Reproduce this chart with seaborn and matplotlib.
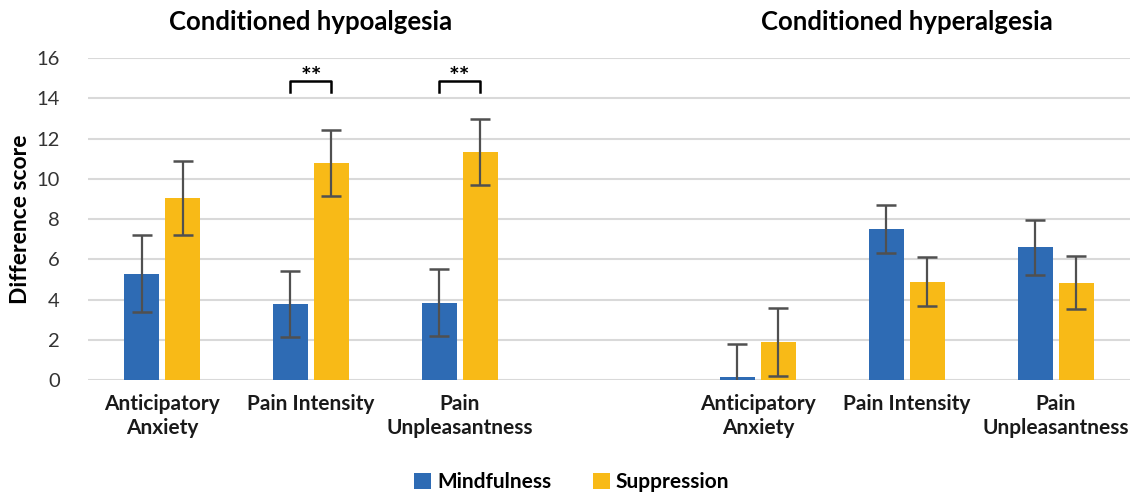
import matplotlib
matplotlib.use("Agg")
import matplotlib.pyplot as plt
import seaborn as sns
import pandas as pd

# categories (one empty slot separates the two panels)
slots = ["hypo_aa", "hypo_pi", "hypo_pu", "gap", "hyper_aa", "hyper_pi", "hyper_pu"]
slot_labels = ["Anticipatory\nAnxiety", "Pain Intensity", "Pain\nUnpleasantness", "",
               "Anticipatory\nAnxiety", "Pain Intensity", "Pain\nUnpleasantness"]
measures = ["hypo_aa", "hypo_pi", "hypo_pu", "hyper_aa", "hyper_pi", "hyper_pu"]

mindfulness = [5.3, 3.8, 3.85, 0.15, 7.5, 6.6]
mindfulness_err = [1.9, 1.65, 1.65, 1.65, 1.2, 1.35]
suppression = [9.05, 10.8, 11.35, 1.9, 4.9, 4.85]
suppression_err = [1.85, 1.65, 1.65, 1.7, 1.2, 1.3]

groups = ["Mindfulness", "Suppression"]
palette = {"Mindfulness": "#2E6BB4", "Suppression": "#F8BA17"}

df = pd.DataFrame({
    "slot": measures * 2,
    "group": ["Mindfulness"] * len(measures) + ["Suppression"] * len(measures),
    "score": mindfulness + suppression,
    "err": mindfulness_err + suppression_err,
})

plt.rcParams["font.family"] = ["Lato", "DejaVu Sans"]

fig, ax = plt.subplots(figsize=(11.37, 4.97), dpi=100)
fig.subplots_adjust(left=0.077, right=0.994, top=0.883, bottom=0.235)

sns.barplot(data=df, x="slot", y="score", hue="group", order=slots,
            hue_order=groups, palette=palette, width=0.55, gap=0.15,
            errorbar=None, saturation=1, ax=ax, zorder=3)

# error bars placed on the drawn bars
for container, grp in zip(ax.containers, groups):
    sub = df[df["group"] == grp].set_index("slot")
    for bar in container:
        xc = bar.get_x() + bar.get_width() / 2
        key = slots[int(round(xc))]
        if key not in sub.index:
            continue
        ax.errorbar(xc, sub.loc[key, "score"], yerr=sub.loc[key, "err"],
                    fmt="none", ecolor="#505050", elinewidth=1.6,
                    capsize=7.5, capthick=1.8, zorder=4)

# significance brackets
for key in ["hypo_pi", "hypo_pu"]:
    i = slots.index(key)
    x0, x1 = i - 0.1375, i + 0.1375
    ax.plot([x0, x0, x1, x1], [14.3, 14.85, 14.85, 14.3], color="black",
            lw=1.8, clip_on=False, zorder=5)
    ax.text(i, 15.05, "**", ha="center", va="center", fontsize=18,
            fontweight="bold", color="black")

ax.set_ylim(0, 16)
ax.set_xlim(-0.5, len(slots) - 0.5)
ax.set_yticks(range(0, 17, 2))
ax.yaxis.grid(True, color="#D9D9D9", lw=1.5, zorder=0)
ax.set_axisbelow(True)
for s in ax.spines.values():
    s.set_visible(False)
ax.axhline(0, color="#D9D9D9", lw=1.8, zorder=1)

ax.set_xticks(range(len(slots)))
ax.set_xticklabels(slot_labels, fontsize=15, fontweight="bold", color="#1a1a1a",
                   linespacing=1.25)
ax.tick_params(axis="x", length=0, pad=10)
ax.tick_params(axis="y", length=0, labelsize=14.5, labelcolor="#333333", pad=20)
ax.set_xlabel("")
ax.set_ylabel("Difference score", fontsize=16.5, fontweight="bold", labelpad=4)

ax.text(1, 1.075, "Conditioned hypoalgesia", transform=ax.get_xaxis_transform(),
        ha="center", va="bottom", fontsize=18.5, fontweight="bold")
ax.text(5, 1.075, "Conditioned hyperalgesia", transform=ax.get_xaxis_transform(),
        ha="center", va="bottom", fontsize=18.5, fontweight="bold")

handles, labels = ax.get_legend_handles_labels()
ax.get_legend().remove()
fig.legend(handles, labels, loc="center", bbox_to_anchor=(0.503, 0.03), ncol=2,
           frameon=False, handlelength=0.8, handleheight=0.8, handletextpad=0.3,
           columnspacing=2.0, prop={"size": 15, "weight": "bold"})

fig.savefig("out.png", dpi=100)
